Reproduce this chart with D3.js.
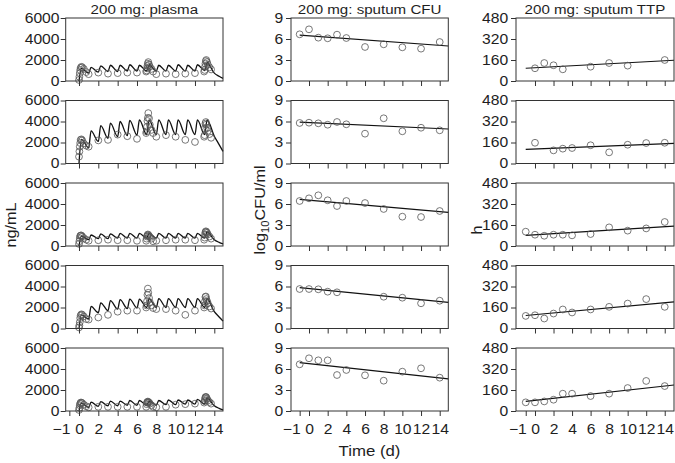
<!DOCTYPE html>
<html><head><meta charset="utf-8">
<script src="https://cdn.jsdelivr.net/npm/d3@7"></script>
<style>body{margin:0;background:#fff}svg{display:block}</style>
</head><body><svg id="c" width="675" height="463"></svg>
<script>
// ---------------- DATA ----------------
const titles = ["200 mg: plasma", "200 mg: sputum CFU", "200 mg: sputum TTP"];
const plasmaTicks = [0, 2000, 4000, 6000];
const cfuTicks = [0, 3, 6, 9];
const ttpTicks = [0, 160, 320, 480];
const xTicksInner = [0, 2, 4, 6, 8, 10, 12, 14];
const xTicksBottom = [-1, 0, 2, 4, 6, 8, 10, 12, 14];

// observed plasma sampling times (d)
const obsTimes = [0, 0.04, 0.08, 0.125, 0.17, 0.25, 0.33, 0.5, 0.75, 1, 2, 3, 4, 5, 6,
  6.95, 7, 7.04, 7.08, 7.125, 7.17, 7.25, 7.33, 7.5, 7.67, 8, 9, 10, 11, 12,
  12.95, 13, 13.04, 13.08, 13.125, 13.17, 13.25, 13.33, 13.5, 13.67];
const conc1 = [100, 400, 750, 1050, 1250, 1350, 1300, 1150, 850, 650, 800, 700, 750, 800, 800,
  900, 1000, 1200, 1450, 1650, 1800, 1550, 1350, 1150, 900, 650, 700, 650, 700, 750,
  900, 1050, 1350, 1650, 1900, 2000, 1800, 1550, 1300, 1100];
const conc2 = [650, 1150, 1600, 1950, 2250, 2300, 2200, 1900, 1700, 1600, 2200, 2250, 2750, 2600, 2350,
  2900, 3050, 3500, 4050, 4350, 4800, 4300, 3700, 3200, 2900, 2550, 2700, 2550, 2250, 2050,
  2550, 2700, 3350, 3800, 3950, 3700, 3400, 3100, 2800, 2450];
const conc3 = [200, 450, 750, 950, 1000, 1000, 900, 750, 600, 500, 550, 600, 550, 550, 500,
  500, 700, 900, 1000, 1100, 1050, 950, 850, 700, 450, 500, 550, 600, 600, 550,
  600, 800, 1100, 1300, 1400, 1350, 1250, 1100, 900, 700];
const conc4 = [100, 300, 600, 1000, 1250, 1350, 1300, 1150, 900, 850, 1050, 1300, 1600, 1700, 1700,
  2000, 2200, 2600, 3200, 3800, 3400, 2900, 2500, 2200, 1950, 1850, 1850, 1700, 1300, 1700,
  2000, 2200, 2600, 3000, 3050, 2800, 2600, 2400, 2100, 1900];
const conc5 = [100, 300, 550, 700, 800, 800, 750, 600, 450, 350, 400, 400, 400, 400, 400,
  400, 650, 800, 850, 900, 850, 800, 700, 550, 400, 350, 400, 600, 650, 700,
  800, 950, 1150, 1300, 1350, 1300, 1150, 1000, 850, 700];

// model-predicted plasma curve (trough / peak pairs)
const modelTimes = [0, 0.25, 1, 1.25, 2, 2.25, 3, 3.25, 4, 4.25, 5, 5.25, 6, 6.25, 7, 7.25,
  8, 8.25, 9, 9.25, 10, 10.25, 11, 11.25, 12, 12.25, 13, 13.25, 14, 14.5, 14.9];
const model1 = [0, 1200, 750, 1300, 850, 1450, 900, 1500, 900, 1500, 950, 1550, 950, 1500, 950, 1550,
  950, 1500, 950, 1500, 950, 1550, 950, 1500, 950, 1550, 1000, 1750, 750, 450, 250];
const model2 = [0, 2300, 1500, 3100, 2100, 3600, 2400, 3850, 2550, 4000, 2650, 4100, 2700, 4150, 2750, 4150,
  2750, 4150, 2750, 4150, 2750, 4150, 2750, 4150, 2750, 4150, 2750, 4150, 2600, 1800, 1150];
const model3 = [0, 950, 600, 1050, 700, 1150, 700, 1150, 750, 1200, 750, 1200, 750, 1200, 750, 1200,
  750, 1200, 750, 1200, 750, 1200, 750, 1200, 750, 1200, 750, 1350, 600, 350, 200];
const model4 = [0, 1300, 900, 2100, 1500, 2450, 1700, 2650, 1850, 2750, 1900, 2800, 1950, 2800, 2000, 2850,
  2000, 2850, 2000, 2850, 2000, 2850, 2000, 2850, 2000, 2850, 2000, 2850, 1600, 1100, 700];
const model5 = [0, 750, 350, 850, 450, 900, 500, 950, 500, 950, 550, 1000, 550, 1000, 550, 950,
  550, 1000, 600, 1050, 600, 1050, 650, 1050, 650, 1100, 650, 1250, 500, 250, 100];

// sputum sampling days
const sputumDays = [-1, 0, 1, 2, 3, 4, 6, 8, 10, 12, 14];
const cfu1 = [6.67, 7.38, 6.19, 6.1, 6.62, 6.14, 4.86, 5.24, 4.81, 4.62, 5.57];
const cfu2 = [5.79, 5.83, 5.74, 5.54, 5.93, 5.6, 4.26, 6.46, 4.6, 5.11, 4.74];
const cfu3 = [6.43, 6.81, 7.24, 6.53, 5.71, 6.43, 6.14, 5.29, 4.19, 4.14, 5.0];
const cfu4 = [5.64, 5.64, 5.6, 5.26, 5.17, null, null, 4.54, 4.4, 3.6, 3.97];
const cfu5 = [6.67, 7.53, 7.24, 7.24, 5.14, 5.86, 5.1, 4.33, 5.62, 6.1, 4.76];
const cfuFitDays = [-1, 14.92];
const cfuFit1 = [6.55, 5.0];
const cfuFit2 = [5.9, 4.93];
const cfuFit3 = [6.65, 4.8];
const cfuFit4 = [5.85, 3.72];
const cfuFit5 = [6.9, 4.6];

const ttp1 = [null, 97, 137, 120, 89, null, 109, 137, 117, null, 160];
const ttp2 = [null, 158, null, 100, 113, 118, 139, 85, 143, 156, 158];
const ttp3 = [109, 86, 78, 86, 86, 81, 91, 142, 117, 134, 183];
const ttp4 = [96, 101, 76, 114, 145, 122, 145, 165, 190, 224, 165];
const ttp5 = [66, 66, 73, 86, 132, 132, 114, 132, 175, 229, 190];
const ttpFitDays = [-1, 15];
const ttpFit1 = [97, 158];
const ttpFit2 = [108, 154];
const ttpFit3 = [81, 152];
const ttpFit4 = [99, 203];
const ttpFit5 = [73, 198];

// ---------------- LAYOUT ----------------
const svg = d3.select("#c");
const FONT = '"Liberation Sans", Arial, Helvetica, sans-serif';
const SX = 1.12;
const INK = "#1e1e1e";
const PH = 63;
const rowTop = i => 18 + i * 82.5;
const cols = [
  {x0: 65.7, x1: 223, dom: [-1.376, 14.9], yMax: 6000, ticks: plasmaTicks, pad: 0.5},
  {x0: 291, x1: 448.3, dom: [-1.928, 14.92], yMax: 9, ticks: cfuTicks, pad: 2},
  {x0: 516, x1: 674, dom: [-2.05, 15.0], yMax: 480, ticks: ttpTicks, pad: 2}
];
const obsConc = [conc1, conc2, conc3, conc4, conc5];
const models = [model1, model2, model3, model4, model5];
const cfus = [cfu1, cfu2, cfu3, cfu4, cfu5];
const cfuFits = [cfuFit1, cfuFit2, cfuFit3, cfuFit4, cfuFit5];
const ttps = [ttp1, ttp2, ttp3, ttp4, ttp5];
const ttpFits = [ttpFit1, ttpFit2, ttpFit3, ttpFit4, ttpFit5];

function text(x, y, s, size, anchor, rot) {
  return svg.append("text")
    .attr("transform", `translate(${x},${y}) rotate(${rot || 0}) scale(${SX},1)`)
    .attr("font-family", FONT).attr("font-size", size).attr("fill", INK)
    .attr("text-anchor", anchor || "middle").text(s);
}
const fmtX = d => d < 0 ? "\u2212" + Math.abs(d) : String(d);
const fmtY = d => String(d);

cols.forEach((col, ci) => {
  const x = d3.scaleLinear().domain(col.dom).range([col.x0, col.x1]);
  text((col.x0 + col.x1) / 2, 14.3, titles[ci], 13.5);
  for (let r = 0; r < 5; r++) {
    const top = rowTop(r), bot = top + PH;
    const y = d3.scaleLinear().domain([0, col.yMax]).range([bot, top]);
    const g = svg.append("g");

    // y axis
    const ya = svg.append("g").attr("transform", `translate(${col.x0},0)`)
      .call(d3.axisLeft(y).tickValues(col.ticks).tickFormat(fmtY).tickSize(5).tickPadding(col.pad).tickSizeOuter(0));
    ya.select(".domain").remove();
    ya.attr("font-family", FONT).attr("font-size", 14);
    ya.selectAll("line").attr("stroke", "#333");
    ya.selectAll("text").attr("fill", INK).attr("transform", `scale(${SX},1)`);

    // x axis
    const last = r === 4;
    const xa = svg.append("g").attr("transform", `translate(0,${bot})`)
      .call(d3.axisBottom(x).tickValues(last ? xTicksBottom : xTicksInner)
        .tickSize(5).tickPadding(8).tickSizeOuter(0).tickFormat(last ? fmtX : () => ""));
    xa.select(".domain").remove();
    xa.attr("font-family", FONT).attr("font-size", 14);
    xa.selectAll("line").attr("stroke", "#333");
    xa.selectAll("text").attr("fill", INK).attr("transform", `scale(${SX},1)`)
      .filter(d => d < 0).attr("text-anchor", "end").attr("x", 0.5);

    // data
    if (ci === 0) {
      const line = d3.line().curve(d3.curveMonotoneX).x((d, i) => x(modelTimes[i])).y(d => y(d));
      g.append("path").attr("d", line(models[r])).attr("fill", "none")
        .attr("stroke", "#111").attr("stroke-width", 1.3).attr("stroke-linejoin", "round");
      g.selectAll("circle").data(obsConc[r]).join("circle")
        .attr("cx", (d, i) => x(obsTimes[i])).attr("cy", d => y(d)).attr("r", 3.4)
        .attr("fill", "none").attr("stroke", "#555").attr("stroke-width", 0.8);
    } else {
      const vals = ci === 1 ? cfus[r] : ttps[r];
      const fit = ci === 1 ? cfuFits[r] : ttpFits[r];
      const fitDays = ci === 1 ? cfuFitDays : ttpFitDays;
      g.append("path").attr("d", d3.line().x((d, i) => x(fitDays[i])).y(d => y(d))(fit))
        .attr("fill", "none").attr("stroke", "#111").attr("stroke-width", 1.2);
      const pts = vals.map((v, i) => ({t: sputumDays[i], v})).filter(p => p.v != null);
      g.selectAll("circle").data(pts).join("circle")
        .attr("cx", p => x(p.t)).attr("cy", p => y(p.v)).attr("r", 3.4)
        .attr("fill", "none").attr("stroke", "#555").attr("stroke-width", 0.8);
    }
    // frame
    svg.append("rect").attr("x", col.x0).attr("y", top)
      .attr("width", col.x1 - col.x0).attr("height", PH)
      .attr("fill", "none").attr("stroke", "#333").attr("stroke-width", 1);
  }
});

// axis titles
text(16, 225, "ng/mL", 14.5, "middle", -90);
const lt = svg.append("text")
  .attr("transform", `translate(265,210) rotate(-90) scale(${SX},1)`)
  .attr("font-family", FONT).attr("font-size", 14.5).attr("fill", INK).attr("text-anchor", "middle");
lt.append("tspan").text("log");
lt.append("tspan").attr("font-size", 10).attr("dy", 4).text("10");
lt.append("tspan").attr("dy", -4).text("CFU/ml");
text(481.5, 230, "h", 14.5, "middle", -90);
text(369.5, 456, "Time (d)", 15);
</script></body></html>
